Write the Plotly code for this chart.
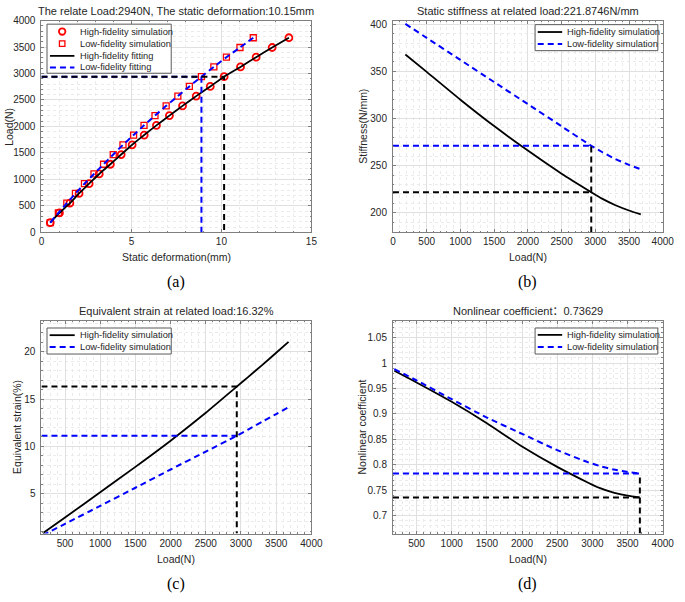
import plotly.graph_objects as go

W, H = 685, 602

# ---------------- data ----------------
# (a) load-deformation
load_levels = [184, 368, 551, 735, 919, 1103, 1286, 1470, 1654, 1838,
               2021, 2205, 2389, 2573, 2756, 2940, 3124, 3308, 3491, 3675]
hf_deformation = [0.49, 1.00, 1.58, 2.09, 2.65, 3.21, 3.83, 4.43, 5.04, 5.71,
                  6.39, 7.11, 7.84, 8.60, 9.38, 10.15, 11.06, 11.93, 12.82, 13.75]
lf_deformation = [0.49, 0.94, 1.41, 1.89, 2.39, 2.92, 3.45, 3.99, 4.53, 5.12,
                  5.70, 6.31, 6.93, 7.58, 8.22, 8.89, 9.58, 10.28, 11.03, 11.77]
related_load = 2940
hf_related_def = 10.15
lf_related_def = 8.89

# (b)-(d) curves vs load
load_curve = [184, 500, 1000, 1500, 2000, 2500, 2940, 3100, 3300, 3500, 3675]
hf_stiffness = [368.0, 349.5, 320.0, 292.0, 266.0, 241.5, 221.9, 215.0, 208.0, 202.4, 198.3]
lf_stiffness = [400.4, 385.6, 362.2, 338.7, 315.3, 291.8, 271.1, 264.5, 257.0, 250.8, 246.2]
hf_strain = [0.8, 2.47, 5.15, 7.83, 10.6, 13.55, 16.32, 17.33, 18.6, 19.9, 21.05]
lf_strain = [0.6, 1.8, 3.7, 5.62, 7.55, 9.45, 11.12, 11.78, 12.6, 13.42, 14.15]
hf_nonlinear = [0.985, 0.962, 0.924, 0.882, 0.836, 0.796, 0.765, 0.7547, 0.7455, 0.7395, 0.736]
lf_nonlinear = [0.988, 0.966, 0.929, 0.893, 0.861, 0.829, 0.805, 0.798, 0.791, 0.786, 0.783]

hf_related_stiff, lf_related_stiff = 221.87, 271.1
hf_related_strain, lf_related_strain = 16.32, 11.12
max_load = 3675
hf_nl_end, lf_nl_end = 0.736, 0.783

# ---------------- layout helpers ----------------
def px(gx):
    return gx / W

def py(gy):
    return 1 - gy / H

FONT = "Liberation Sans, Arial, Noto Sans CJK SC, sans-serif"
TXT = "#262626"
FRAME = "#7f7f7f"

# pixel boxes: left, right, top, bottom
BOX = {
    1: (39.3, 315.3, 14.8, 230.6),
    2: (398.7, 674.5, 14.8, 230.6),
    3: (39.3, 315.3, 320.7, 537.4),
    4: (398.7, 674.5, 320.7, 537.4),
}

def axis(n, which, rng, tickvals, ticktext, minor_dtick):
    l, r, t, b = BOX[n]
    dom = [px(l), px(r)] if which == "x" else [py(b), py(t)]
    return dict(
        domain=dom, range=rng, anchor=("y" if which == "x" else "x") + ("" if n == 1 else str(n)),
        tickmode="array", tickvals=tickvals, ticktext=ticktext,
        showgrid=True, gridcolor="#e0e0e0", gridwidth=1,
        showline=True, linecolor=FRAME, linewidth=1, mirror="ticks",
        ticks="inside", ticklen=3, tickcolor=FRAME, tickwidth=1,
        tickfont=dict(family=FONT, size=10, color=TXT),
        ticklabelstandoff=0 if which == "x" else 3,
        zeroline=False, fixedrange=True,
        minor=dict(tickmode="linear", tick0=0, dtick=minor_dtick, showgrid=True,
                   gridcolor="#ebebeb", griddash="dot", gridwidth=1,
                   ticks="inside", ticklen=1.5, tickcolor=FRAME),
    )

def ticks(vals, fmt=str):
    return vals, [fmt(v) for v in vals]

fig = go.Figure()

BLUE = "#0000FF"
RED = "#FF0000"
DASH = "6px,4px"
SPL = dict(shape="spline", smoothing=0.6)

# ---------------- (a) ----------------
fig.add_trace(go.Scatter(x=hf_deformation, y=load_levels, mode="markers", name="High-fidelity simulation",
                         marker=dict(symbol="circle-open", size=7, color=RED, line=dict(width=1.8, color=RED)),
                         xaxis="x", yaxis="y"))
fig.add_trace(go.Scatter(x=lf_deformation, y=load_levels, mode="markers", name="Low-fidelity simulation",
                         marker=dict(symbol="square-open", size=6, color=RED, line=dict(width=1.3, color=RED)),
                         xaxis="x", yaxis="y"))
fig.add_trace(go.Scatter(x=hf_deformation, y=load_levels, mode="lines", name="High-fidelity fitting",
                         line=dict(color="black", width=1.8, **SPL), xaxis="x", yaxis="y"))
fig.add_trace(go.Scatter(x=lf_deformation, y=load_levels, mode="lines", name="Low-fidelity fitting",
                         line=dict(color=BLUE, width=2, dash=DASH, **SPL), xaxis="x", yaxis="y"))
# guides
fig.add_trace(go.Scatter(x=[0, lf_related_def, lf_related_def], y=[related_load, related_load, 0], mode="lines",
                         line=dict(color=BLUE, width=2, dash=DASH), xaxis="x", yaxis="y", showlegend=False))
fig.add_trace(go.Scatter(x=[0, hf_related_def, hf_related_def], y=[related_load, related_load, 0], mode="lines",
                         line=dict(color="black", width=2, dash=DASH), xaxis="x", yaxis="y", showlegend=False))

# ---------------- (b) ----------------
yb_min = 179.2
fig.add_trace(go.Scatter(x=load_curve, y=hf_stiffness, mode="lines", name="High-fidelity simulation",
                         line=dict(color="black", width=1.8, **SPL), xaxis="x2", yaxis="y2"))
fig.add_trace(go.Scatter(x=load_curve, y=lf_stiffness, mode="lines", name="Low-fidelity simulation",
                         line=dict(color=BLUE, width=2, dash=DASH, **SPL), xaxis="x2", yaxis="y2"))
fig.add_trace(go.Scatter(x=[0, related_load], y=[lf_related_stiff, lf_related_stiff], mode="lines",
                         line=dict(color=BLUE, width=2, dash=DASH), xaxis="x2", yaxis="y2", showlegend=False))
fig.add_trace(go.Scatter(x=[0, related_load, None, related_load, related_load],
                         y=[hf_related_stiff, hf_related_stiff, None, yb_min, lf_related_stiff], mode="lines",
                         line=dict(color="black", width=2, dash=DASH), xaxis="x2", yaxis="y2", showlegend=False))

# ---------------- (c) ----------------
xc_min = 165
yc_min = 0.77
fig.add_trace(go.Scatter(x=load_curve, y=hf_strain, mode="lines", name="High-fidelity simulation",
                         line=dict(color="black", width=1.8, **SPL), xaxis="x3", yaxis="y3"))
fig.add_trace(go.Scatter(x=load_curve, y=lf_strain, mode="lines", name="Low-fidelity simulation",
                         line=dict(color=BLUE, width=2, dash=DASH, **SPL), xaxis="x3", yaxis="y3"))
fig.add_trace(go.Scatter(x=[xc_min, related_load], y=[lf_related_strain, lf_related_strain], mode="lines",
                         line=dict(color=BLUE, width=2, dash=DASH), xaxis="x3", yaxis="y3", showlegend=False))
fig.add_trace(go.Scatter(x=[xc_min, related_load, related_load], y=[hf_related_strain, hf_related_strain, yc_min],
                         mode="lines", line=dict(color="black", width=2, dash=DASH), xaxis="x3", yaxis="y3",
                         showlegend=False))

# ---------------- (d) ----------------
yd_min = 0.665
fig.add_trace(go.Scatter(x=load_curve, y=hf_nonlinear, mode="lines", name="High-fidelity simulation",
                         line=dict(color="black", width=1.8, **SPL), xaxis="x4", yaxis="y4"))
fig.add_trace(go.Scatter(x=load_curve, y=lf_nonlinear, mode="lines", name="Low-fidelity simulation",
                         line=dict(color=BLUE, width=2, dash=DASH, **SPL), xaxis="x4", yaxis="y4"))
fig.add_trace(go.Scatter(x=[xc_min, max_load], y=[lf_nl_end, lf_nl_end], mode="lines",
                         line=dict(color=BLUE, width=2, dash=DASH), xaxis="x4", yaxis="y4", showlegend=False))
fig.add_trace(go.Scatter(x=[xc_min, max_load, None, max_load, max_load],
                         y=[hf_nl_end, hf_nl_end, None, yd_min, lf_nl_end], mode="lines",
                         line=dict(color="black", width=2, dash=DASH), xaxis="x4", yaxis="y4", showlegend=False))

# ---------------- axes ----------------
load_ticks = [0, 500, 1000, 1500, 2000, 2500, 3000, 3500, 4000]
load_ticks_cd = load_ticks[1:]

layout = dict(
    width=W, height=H, autosize=False, showlegend=False,
    margin=dict(l=0, r=0, t=0, b=0),
    paper_bgcolor="white", plot_bgcolor="white",
    font=dict(family=FONT, color=TXT),
)
layout["xaxis"] = axis(1, "x", [0, 15], *ticks([0, 5, 10, 15]), 1)
layout["yaxis"] = axis(1, "y", [0, 4000], *ticks(list(range(0, 4001, 500))), 100)
layout["xaxis2"] = axis(2, "x", [0, 4000], *ticks(load_ticks), 100)
layout["yaxis2"] = axis(2, "y", [yb_min, 404.0], *ticks([200, 250, 300, 350, 400]), 10)
layout["xaxis3"] = axis(3, "x", [xc_min, 4000], *ticks(load_ticks_cd), 100)
layout["yaxis3"] = axis(3, "y", [yc_min, 23.28], *ticks([5, 10, 15, 20]), 1)
layout["xaxis4"] = axis(4, "x", [xc_min, 4000], *ticks(load_ticks_cd), 100)
layout["yaxis4"] = axis(4, "y", [yd_min, 1.083],
                        [0.7, 0.75, 0.8, 0.85, 0.9, 0.95, 1.0, 1.05],
                        ["0.7", "0.75", "0.8", "0.85", "0.9", "0.95", "1", "1.05"], 0.01)
fig.update_layout(**layout)

annotations = []
shapes = []

def text(gx, gy, s, size, angle=0, family=FONT, color=TXT, xanchor="center"):
    annotations.append(dict(x=px(gx), y=py(gy), xref="paper", yref="paper", text=s, showarrow=False,
                            xanchor=xanchor, yanchor="middle", textangle=angle,
                            font=dict(family=family, size=size, color=color)))

titles = {
    1: "The relate Load:2940N, The static deformation:10.15mm",
    2: "Static stiffness at related load:221.8746N/mm",
    3: "Equivalent strain at related load:16.32%",
    4: "Nonlinear coefficient\uff1a0.73629",
}
xlabels = {1: "Static deformation(mm)", 2: "Load(N)", 3: "Load(N)", 4: "Load(N)"}
ylabels = {1: "Load(N)", 2: "Stiffness(N/mm)", 3: "Equivalent strain(%)", 4: "Nonlinear coefficient"}
ylabel_x = {1: 6.5, 2: 368.3, 3: 15, 4: 367.3}
letters = {1: "(a)", 2: "(b)", 3: "(c)", 4: "(d)"}

for n, (l, r, t, b) in BOX.items():
    cx = (l + r) / 2
    text(cx, t - 10, titles[n], 11)
    text(cx, b + 25.5, xlabels[n], 10.5)
    text(ylabel_x[n], (t + b) / 2, ylabels[n], 10.5, angle=-90)
    text(cx, b + 51, letters[n], 16, family="Liberation Serif, Times New Roman, serif", color="black")

# ---------------- manual legends ----------------
def legend(box, rows, line_x, text_x):
    x0, x1, y0, y1 = box
    shapes.append(dict(type="rect", xref="paper", yref="paper", x0=px(x0), x1=px(x1), y0=py(y1), y1=py(y0),
                       line=dict(color="#5a5a5a", width=1), fillcolor="white", layer="above"))
    for gy, kind, label in rows:
        lx0, lx1 = line_x
        mx = (lx0 + lx1) / 2
        if kind == "circle":
            r = 3.3
            shapes.append(dict(type="circle", xref="paper", yref="paper", x0=px(mx - r), x1=px(mx + r),
                               y0=py(gy + r), y1=py(gy - r), line=dict(color=RED, width=1.8)))
        elif kind == "square":
            r = 2.8
            shapes.append(dict(type="rect", xref="paper", yref="paper", x0=px(mx - r), x1=px(mx + r),
                               y0=py(gy + r), y1=py(gy - r), line=dict(color=RED, width=1.3)))
        elif kind == "solid":
            shapes.append(dict(type="line", xref="paper", yref="paper", x0=px(lx0), x1=px(lx1),
                               y0=py(gy), y1=py(gy), line=dict(color="black", width=1.8)))
        else:
            shapes.append(dict(type="line", xref="paper", yref="paper", x0=px(lx0), x1=px(lx1),
                               y0=py(gy), y1=py(gy), line=dict(color=BLUE, width=2, dash=DASH)))
        text(text_x, gy, label, 9.3, xanchor="left")

legend((45, 172, 18.5, 68.5),
       [(26.0, "circle", "High-fidelity simulation"), (38.4, "square", "Low-fidelity simulation"),
        (50.8, "solid", "High-fidelity fitting"), (62.6, "dash", "Low-fidelity fitting")],
       (48, 73), 76.5)
legend((544, 669.5, 19, 45.5),
       [(26.5, "solid", "High-fidelity simulation"), (38.8, "dash", "Low-fidelity simulation")],
       (546.7, 571.7), 575)
legend((45, 172, 328, 354.5),
       [(335.3, "solid", "High-fidelity simulation"), (347.3, "dash", "Low-fidelity simulation")],
       (47.7, 73.3), 76.5)
legend((544, 669.5, 328, 354.5),
       [(335.0, "solid", "High-fidelity simulation"), (347.3, "dash", "Low-fidelity simulation")],
       (546.7, 571.7), 575)

fig.update_layout(annotations=annotations, shapes=shapes)
fig.write_html("out.html", config={"displayModeBar": False, "staticPlot": True},
               post_script="document.body.style.margin='0';document.body.style.overflow='hidden';")
